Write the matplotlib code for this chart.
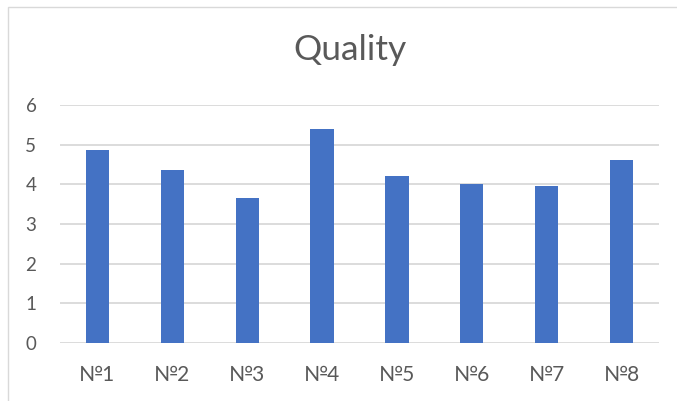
import matplotlib
matplotlib.use('Agg')
import matplotlib.pyplot as plt
from matplotlib.patches import Rectangle

# data
categories = ['№1', '№2', '№3', '№4', '№5', '№6', '№7', '№8']
quality = [4.86, 4.37, 3.65, 5.40, 4.21, 4.02, 3.97, 4.61]
yticks = [0, 1, 2, 3, 4, 5, 6]

BAR = '#4472C4'
GRID = '#D9D9D9'
TEXT = '#595959'

plt.rcParams['font.family'] = ['Lato', 'DejaVu Sans']

W, H = 677, 401
fig = plt.figure(figsize=(W / 100, H / 100), dpi=100)

# chart border (cut off at right and bottom like the screenshot)
fig.patches.append(Rectangle((8 / W, -0.1), 1.2, (H - 7) / H + 0.1,
                             transform=fig.transFigure, fill=False,
                             edgecolor=GRID, linewidth=1))

ax = fig.add_axes([60 / W, (H - 342.7) / H, (659 - 60) / W, (342.7 - 105.3) / H])
x = range(len(categories))
ax.bar(x, quality, width=0.31, color=BAR, zorder=3)
ax.set_xlim(-0.5, len(categories) - 0.5)
ax.set_ylim(0, 6)
ax.set_yticks(yticks)
ax.set_xticks(list(x))
ax.set_xticklabels(categories)
ax.yaxis.grid(True, color=GRID, linewidth=1.3, zorder=0)
for s in ax.spines.values():
    s.set_visible(False)
ax.tick_params(axis='both', length=0, colors=TEXT)
ax.tick_params(axis='x', pad=16, labelsize=15)
ax.tick_params(axis='y', pad=17, labelsize=13.5)

# title sits a bit right of centre (the chart frame runs past the right edge)
fig.text(350 / W, 1 - 50 / H, 'Quality', ha='center', va='center',
         fontsize=25.5, color=TEXT)

fig.savefig('out.png', dpi=100)
